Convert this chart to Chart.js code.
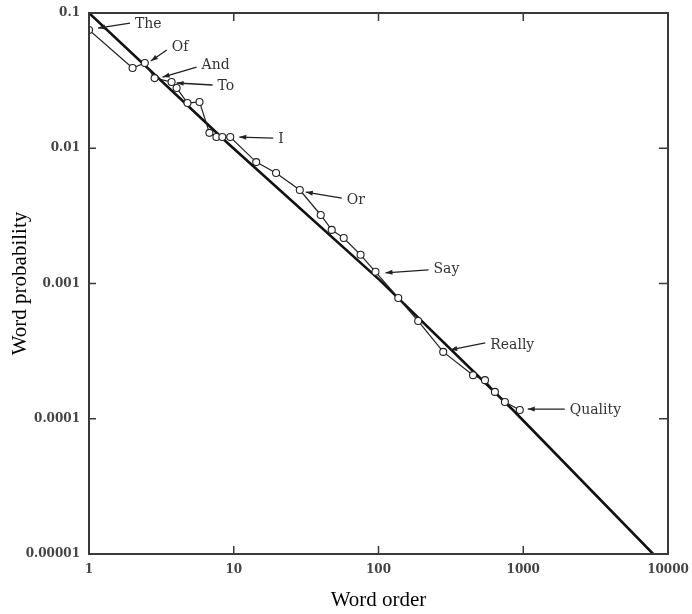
<!DOCTYPE html>
<html>
<head>
<meta charset="utf-8">
<title>Word order x Word probability</title>
<script src="https://cdn.jsdelivr.net/npm/chart.js@4.4.1/dist/chart.umd.min.js"></script>
<style>
    html, body { margin: 0; padding: 0; background: #fff; }
    #wrap { width: 692px; height: 614px; }
</style>
</head>
<body>
<div id="wrap"><canvas id="chart-zipf" width="692" height="614"></canvas></div>
<script>
// valores (ordem da palavra x probabilidade)
const ordemPalavras = [1, 2.0, 2.43, 2.84, 3.72, 4.03, 4.79, 5.8, 6.79, 7.59, 8.34, 9.46,
    14.3, 19.6, 28.6, 39.9, 47.5, 57.5, 75.2, 95.3, 137, 188, 280, 450, 544, 637, 747, 946];
const probPalavras = [0.0748, 0.0392, 0.0427, 0.033, 0.0309, 0.0279, 0.0216, 0.022, 0.013, 0.0121, 0.0121, 0.0121,
    0.0079, 0.00656, 0.00491, 0.00321, 0.00249, 0.00217, 0.00163, 0.00122, 0.000781, 0.000528, 0.000312,
    0.00021, 0.000193, 0.000158, 0.000133, 0.000116];

// reta de Zipf (que e meio torto no scan)
const retaOrdem = [1, 9.1, 102, 849, 7900];
const retaProb = [0.1, 0.0109, 0.00106, 0.000116, 0.00001];

const ticksX = [1, 10, 100, 1000, 10000];
const ticksXLabels = ['1', '10', '100', '1000', '10000'];
const ticksY = [0.1, 0.01, 0.001, 0.0001, 0.00001];
const ticksYLabels = ['0.1', '0.01', '0.001', '0.0001', '0.00001'];

// palavras marcadas e o ponto para onde a seta aponta
const palavras = ['The', 'Of', 'And', 'To', 'I', 'Or', 'Say', 'Really', 'Quality'];
const palavrasIdx = [0, 2, 3, 4, 11, 14, 19, 22, 27];

// deslocamentos em px: [pontaDx, pontaDy, caudaDx, caudaDy, textoDy]
const setas = [
    [9, -2, 41, -7, 1],
    [6, -2, 22, -13, -3],
    [8, -1, 42, -11, -2],
    [5, 1, 41, 3, 1],
    [9, 0, 43, 1, 1],
    [6, 2, 42, 8, 2],
    [10, 1, 53, -2, 0],
    [7, -2, 42, -9, 2],
    [8, -1, 45, -1, 1]
];

function linha(ctx, x1, y1, x2, y2) {
    ctx.beginPath();
    ctx.moveTo(x1, y1);
    ctx.lineTo(x2, y2);
    ctx.stroke();
}

const molduraPlugin = {
    id: 'molduraPlugin',
    afterDraw: (chart) => {
        const { ctx, chartArea: { top, bottom, left, right }, scales: { x, y } } = chart;
        ctx.save();
        ctx.strokeStyle = '#3a3a3a';
        ctx.lineWidth = 2;
        ctx.strokeRect(left, top, right - left, bottom - top);

        // marcas pra dentro
        ctx.lineWidth = 1.5;
        ticksX.slice(1, -1).forEach((v) => {
            const px = x.getPixelForValue(v);
            linha(ctx, px, bottom, px, bottom - 8);
            linha(ctx, px, top, px, top + 8);
        });
        ticksY.slice(1, -1).forEach((v) => {
            const py = y.getPixelForValue(v);
            linha(ctx, left, py, left + 7, py);
            linha(ctx, right, py, right - 9, py);
        });
        ctx.restore();
    },
    afterDatasetsDraw: (chart) => {
        const { ctx, scales: { x, y } } = chart;
        ctx.save();
        ctx.strokeStyle = '#222';
        ctx.fillStyle = '#222';
        ctx.lineWidth = 1.3;
        ctx.font = '14px "DejaVu Serif"';
        ctx.textAlign = 'left';
        ctx.textBaseline = 'middle';
        palavras.forEach((p, i) => {
            const k = palavrasIdx[i];
            const px = x.getPixelForValue(ordemPalavras[k]);
            const py = y.getPixelForValue(probPalavras[k]);
            const s = setas[i];
            const tx = px + s[0], ty = py + s[1];
            const cx = px + s[2], cy = py + s[3];
            linha(ctx, cx, cy, tx, ty);
            // ponta da seta
            const ang = Math.atan2(ty - cy, tx - cx);
            ctx.beginPath();
            ctx.moveTo(tx, ty);
            ctx.lineTo(tx - 7 * Math.cos(ang) + 2.5 * Math.sin(ang), ty - 7 * Math.sin(ang) - 2.5 * Math.cos(ang));
            ctx.lineTo(tx - 7 * Math.cos(ang) - 2.5 * Math.sin(ang), ty - 7 * Math.sin(ang) + 2.5 * Math.cos(ang));
            ctx.closePath();
            ctx.fill();
            ctx.fillStyle = '#333';
            ctx.fillText(p, cx + 5, cy + s[4]);
            ctx.fillStyle = '#222';
        });
        ctx.restore();
    }
};

const fonteTicks = { family: 'DejaVu Serif', size: 12, weight: 'bold' };
const fonteTitulo = { family: 'Liberation Serif', size: 21 };

const grafico = new Chart('chart-zipf', {
    type: 'scatter',
    data: {
        datasets: [{
            label: 'Palavras',
            data: ordemPalavras.map((v, i) => ({ x: v, y: probPalavras[i] })),
            showLine: true,
            borderColor: '#222',
            borderWidth: 1.2,
            pointRadius: 3.5,
            pointBorderWidth: 1.1,
            pointBorderColor: '#222',
            pointBackgroundColor: '#fff'
        }, {
            label: 'Zipf',
            data: retaOrdem.map((v, i) => ({ x: v, y: retaProb[i] })),
            showLine: true,
            borderColor: '#111',
            borderWidth: 2.6,
            pointRadius: 0
        }]
    },
    options: {
        responsive: false,
        devicePixelRatio: 1,
        animation: false,
        layout: { padding: { top: 13, right: 24, left: 0, bottom: 0 } },
        plugins: {
            legend: { display: false },
            tooltip: { enabled: false }
        },
        scales: {
            x: {
                type: 'logarithmic',
                min: 1,
                max: 10000,
                grid: { display: false, drawTicks: false },
                border: { display: false },
                afterBuildTicks: (s) => { s.ticks = ticksX.map(v => ({ value: v })); },
                afterFit: (s) => { s.height = 60; s.paddingLeft = 0; s.paddingRight = 0; },
                ticks: {
                    autoSkip: false, maxRotation: 0, padding: 9, color: '#444', font: fonteTicks,
                    callback: (v, i) => ticksXLabels[i]
                },
                title: { display: true, text: 'Word order', color: '#000', font: fonteTitulo, padding: { top: 0, bottom: 1 } }
            },
            y: {
                type: 'logarithmic',
                min: 0.00001,
                max: 0.1,
                grid: { display: false, drawTicks: false },
                border: { display: false },
                afterBuildTicks: (s) => { s.ticks = ticksY.map(v => ({ value: v })); },
                afterFit: (s) => { s.width = 89; s.paddingTop = 0; s.paddingBottom = 0; },
                ticks: {
                    autoSkip: false, padding: 9, color: '#444', font: fonteTicks,
                    callback: (v, i) => ticksYLabels[i]
                },
                title: { display: true, text: 'Word probability', color: '#000', font: fonteTitulo, padding: { top: 8, bottom: 0 } }
            }
        }
    },
    plugins: [molduraPlugin]
});
</script>
</body>
</html>
